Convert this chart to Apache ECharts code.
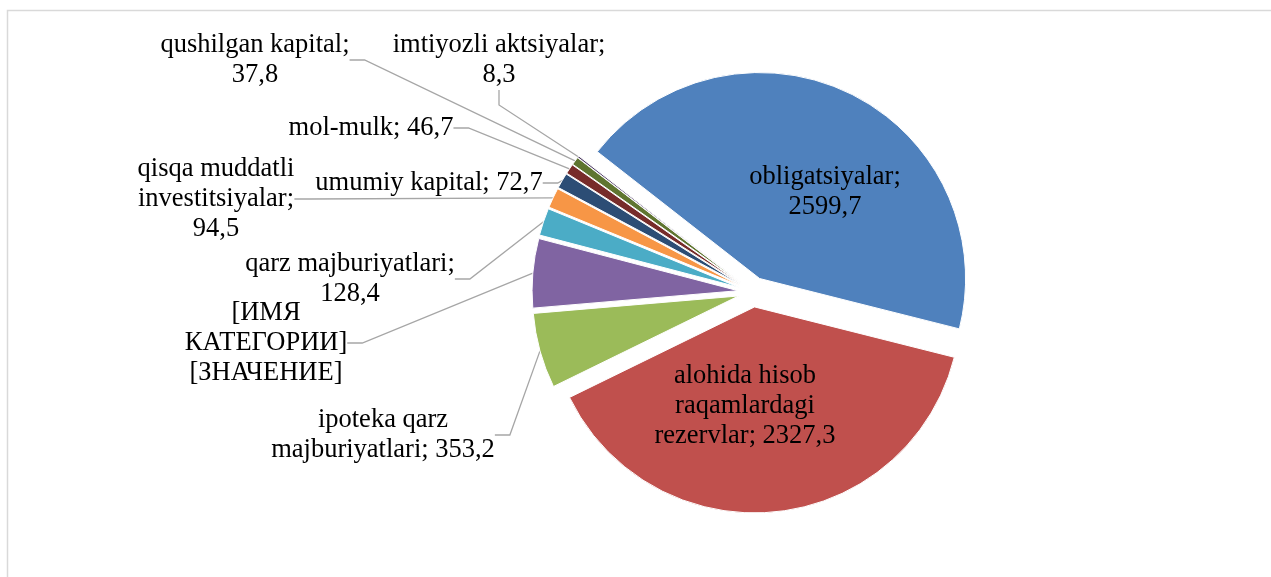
<!DOCTYPE html>
<html>
<head>
<meta charset="utf-8">
<script src="https://cdn.jsdelivr.net/npm/echarts@6/dist/echarts.min.js"></script>
<style>
html,body{margin:0;padding:0;background:#ffffff;}
#chart{width:1271px;height:577px;}
</style>
</head>
<body>
<div id="chart"></div>
<script>
// ---- data ----
const categories = [
  'obligatsiyalar',
  'alohida hisob raqamlardagi rezervlar',
  'ipoteka qarz majburiyatlari',
  '[ИМЯ КАТЕГОРИИ]',
  'qarz majburiyatlari',
  'qisqa muddatli investitsiyalar',
  'umumiy kapital',
  'mol-mulk',
  'qushilgan kapital',
  'imtiyozli aktsiyalar'
];
const values = [2599.7, 2327.3, 353.2, 325, 128.4, 94.5, 72.7, 46.7, 37.8, 8.3];
// label text as shown on the chart ({v} = value)
const labelTemplates = [
  'obligatsiyalar;\n{v}',
  'alohida hisob\nraqamlardagi\nrezervlar; {v}',
  'ipoteka qarz\nmajburiyatlari; {v}',
  '[ИМЯ\nКАТЕГОРИИ]\n[ЗНАЧЕНИЕ]',
  'qarz majburiyatlari;\n{v}',
  'qisqa muddatli\ninvestitsiyalar;\n{v}',
  'umumiy kapital; {v}',
  'mol-mulk; {v}',
  'qushilgan kapital;\n{v}',
  'imtiyozli aktsiyalar;\n{v}'
];
const colors = ['#4F81BD', '#C0504D', '#9BBB59', '#8064A2', '#4BACC6', '#F79646', '#2C4D75', '#772C2A', '#5F7530', '#4D3B62'];

// ---- layout ----
const PIE_CENTER = [753, 292];
const PIE_RADIUS = 206;
const START_ANGLE = 142;
const EXPLODE = 15;
const labelCenters = [
  [825, 192], [745, 406], [383, 435], [266, 343], [350, 279],
  [216, 199], [429, 183], [371, 128], [255, 60], [499, 60]
];
const insideIdx = [0, 1];

const fmt = v => v.toFixed(1).replace('.', ',');
const total = values.reduce((a, b) => a + b, 0);

// one pie series per slice (same data, same angles), each shifted outward
// along its own bisector to reproduce the exploded slices
let cum = 0;
const series = categories.map((c, k) => {
  const mid = (START_ANGLE - 360 * (cum + values[k] / 2) / total) * Math.PI / 180;
  cum += values[k];
  const cx = PIE_CENTER[0] + Math.cos(mid) * EXPLODE;
  const cy = PIE_CENTER[1] - Math.sin(mid) * EXPLODE;
  const inside = insideIdx.includes(k);
  return {
    type: 'pie',
    center: [cx, cy],
    radius: [0, PIE_RADIUS],
    startAngle: START_ANGLE,
    clockwise: true,
    avoidLabelOverlap: false,
    emphasis: { disabled: true },
    z: 2,
    label: {
      show: true,
      position: 'outside',
      color: '#000000',
      fontFamily: "'Liberation Serif', 'Times New Roman', serif",
      fontSize: 26.5,
      lineHeight: 30,
      align: 'center',
      formatter: p => labelTemplates[p.dataIndex].replace('{v}', fmt(p.value))
    },
    labelLine: {
      show: true,
      length: 10,
      length2: 15,
      smooth: false,
      lineStyle: { color: '#A6A6A6', width: 1.3 }
    },
    labelLayout: p => ({
      x: labelCenters[p.dataIndex][0],
      y: labelCenters[p.dataIndex][1],
      align: 'center',
      verticalAlign: 'middle'
    }),
    data: categories.map((name, i) => i === k ? {
      name: name,
      value: values[i],
      itemStyle: { color: colors[i], borderColor: '#ffffff', borderWidth: 1 },
      label: { show: true, position: inside ? 'inside' : 'outside' },
      labelLine: { show: !inside }
    } : {
      name: name,
      value: values[i],
      itemStyle: { color: 'rgba(0,0,0,0)', borderWidth: 0 },
      label: { show: false },
      labelLine: { show: false },
      tooltip: { show: false }
    })
  };
});

const chart = echarts.init(document.getElementById('chart'), null, { renderer: 'canvas' });
chart.setOption({
  animation: false,
  backgroundColor: '#ffffff',
  graphic: [{
    type: 'rect',
    shape: { x: 7.5, y: 10.5, width: 1400, height: 700 },
    style: { fill: 'none', stroke: '#D9D9D9', lineWidth: 1.5 },
    silent: true, z: -1
  }],
  series: series
});
</script>
</body>
</html>
